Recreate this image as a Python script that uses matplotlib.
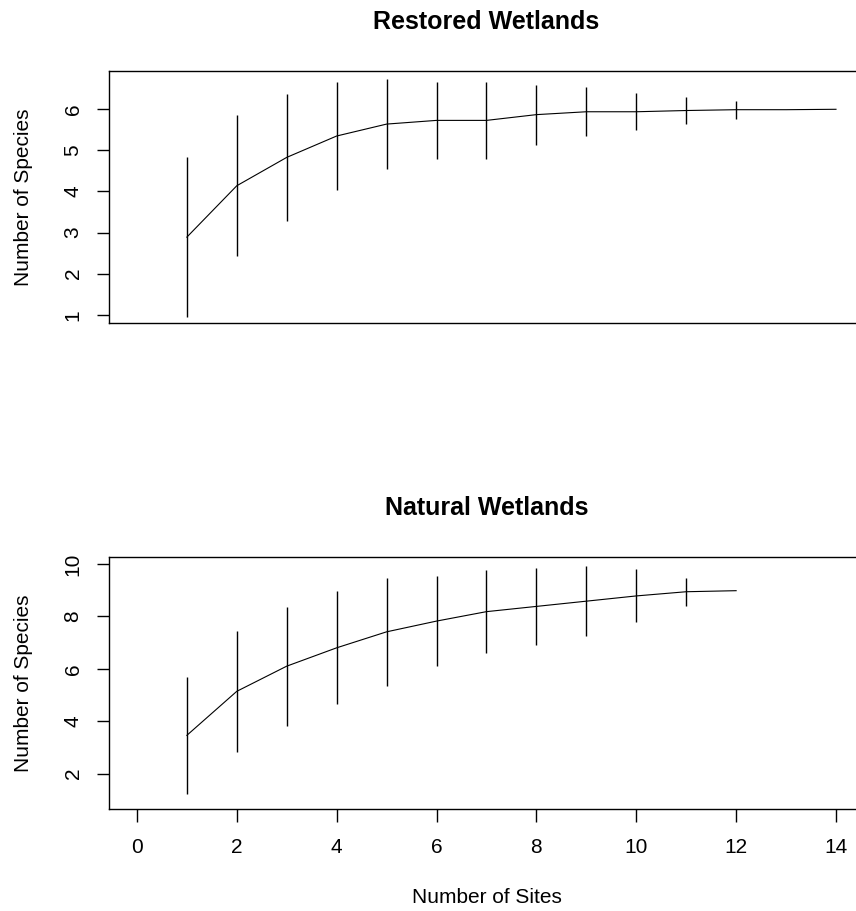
import matplotlib
matplotlib.use("Agg")
import matplotlib.pyplot as plt
import numpy as np

plt.rcParams['font.family'] = ['Liberation Sans', 'DejaVu Sans']

# species accumulation, restored wetlands (mean richness and sd per number of sites)
sites_restored = [1, 2, 3, 4, 5, 6, 7, 8, 9, 10, 11, 12, 13, 14]
rich_restored = [2.89, 4.14, 4.83, 5.35, 5.64, 5.73, 5.73, 5.87, 5.94, 5.94, 5.97, 5.99, 5.99, 6.00]
sd_restored = [1.95, 1.72, 1.55, 1.31, 1.10, 0.94, 0.93, 0.73, 0.60, 0.45, 0.34, 0.22, 0.0, 0.0]

# species accumulation, natural wetlands
sites_natural = [1, 2, 3, 4, 5, 6, 7, 8, 9, 10, 11, 12]
rich_natural = [3.46, 5.14, 6.10, 6.80, 7.41, 7.82, 8.18, 8.38, 8.58, 8.78, 8.94, 8.98]
sd_natural = [2.22, 2.32, 2.27, 2.15, 2.07, 1.73, 1.58, 1.48, 1.34, 1.01, 0.53, 0.0]

xticks = [0, 2, 4, 6, 8, 10, 12, 14]
yticks_restored = [1, 2, 3, 4, 5, 6]
yticks_natural = [2, 4, 6, 8, 10]

fs = 15

fig = plt.figure(figsize=(8.56, 9.11), dpi=100)
ax1 = fig.add_axes([0.1273, 0.6454, 0.882, 0.2766])
ax2 = fig.add_axes([0.1273, 0.1120, 0.882, 0.2770])


def accum_panel(ax, x, y, sd, title, yticks, ylim):
    x = np.asarray(x)
    y = np.asarray(y)
    sd = np.asarray(sd)
    ax.plot(x, y, color='black', linewidth=0.8)
    # error bars only where sd > 0, like R's segments
    m = sd > 0
    ax.vlines(x[m], y[m] - sd[m], y[m] + sd[m], color='black', linewidth=1.0)

    ax.set_xlim(-0.56, 14.56)
    ax.set_ylim(*ylim)
    ax.set_yticks(yticks)
    ax.set_yticklabels([str(v) for v in yticks], rotation=90, va='center')
    ax.tick_params(axis='y', direction='out', length=9, width=1.0, pad=10,
                   labelsize=fs)
    for sp in ax.spines.values():
        sp.set_linewidth(1.0)
        sp.set_color('black')
    ax.set_title(title, fontsize=18, fontweight='bold', pad=30)
    ax.set_ylabel('Number of Species', fontsize=fs)
    ax.yaxis.set_label_coords(-0.10, 0.5)


accum_panel(ax1, sites_restored, rich_restored, sd_restored,
            'Restored Wetlands', yticks_restored, (0.80, 6.93))
ax1.tick_params(axis='x', bottom=False, labelbottom=False)

accum_panel(ax2, sites_natural, rich_natural, sd_natural,
            'Natural Wetlands', yticks_natural, (0.65, 10.28))
ax2.set_xticks(xticks)
ax2.set_xticklabels([str(v) for v in xticks])
ax2.tick_params(axis='x', direction='out', length=9, width=1.0, pad=12,
                labelsize=fs)
ax2.set_xlabel('Number of Sites', fontsize=fs)
ax2.xaxis.set_label_coords(0.5, -0.315)

fig.savefig('out.png', dpi=100)
